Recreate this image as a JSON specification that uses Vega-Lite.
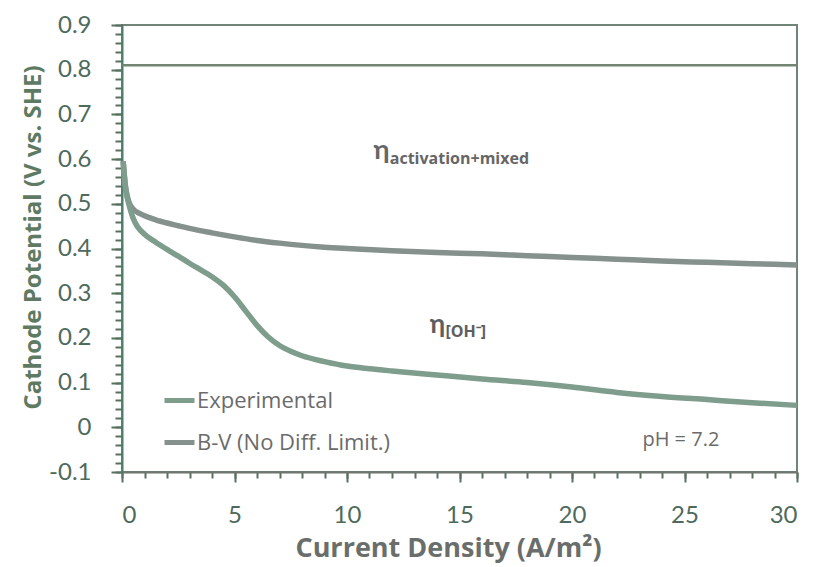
{
  "$schema": "https://vega.github.io/schema/vega-lite/v6.json",
  "width": 675,
  "height": 447,
  "autosize": {"type": "none"},
  "padding": {"left": 122, "top": 25, "right": 19, "bottom": 95},
  "background": "#ffffff",
  "config": {
    "font": "Lato",
    "view": {"stroke": "#6f8577", "strokeWidth": 2},
    "axis": {"grid": false}
  },
  "layer": [
    {
      "data": {"values": [{"E": 0.81}]},
      "mark": {"type": "rule", "color": "#718570", "strokeWidth": 2.5},
      "encoding": {
        "y": {
          "field": "E", "type": "quantitative",
          "scale": {"domain": [-0.1, 0.9], "nice": false, "zero": false},
          "axis": {
            "orient": "left", "title": null, "labels": false, "domain": false,
            "values": [-0.1,-0.08,-0.06,-0.04,-0.02,0,0.02,0.04,0.06,0.08,0.1,0.12,0.14,0.16,0.18,0.2,0.22,0.24,0.26,0.28,0.3,0.32,0.34,0.36,0.38,0.4,0.42,0.44,0.46,0.48,0.5,0.52,0.54,0.56,0.58,0.6,0.62,0.64,0.66,0.68,0.7,0.72,0.74,0.76,0.78,0.8,0.82,0.84,0.86,0.88,0.9],
            "tickSize": 7, "tickWidth": 2, "tickColor": "#58705f"
          }
        },
        "x": {
          "datum": 0, "type": "quantitative",
          "scale": {"domain": [0, 30], "nice": false},
          "axis": {
            "orient": "bottom", "title": null, "labels": false, "domain": false,
            "values": [0,1,2,3,4,5,6,7,8,9,10,11,12,13,14,15,16,17,18,19,20,21,22,23,24,25,26,27,28,29,30],
            "tickSize": 6, "tickWidth": 2, "tickColor": "#58705f"
          }
        },
        "x2": {"datum": 30}
      }
    },
    {
      "data": {"values": [
        {"series": "B-V (No Diff. Limit.)", "j": 0.05, "E": 0.595},
        {"series": "B-V (No Diff. Limit.)", "j": 0.1, "E": 0.565},
        {"series": "B-V (No Diff. Limit.)", "j": 0.15, "E": 0.54},
        {"series": "B-V (No Diff. Limit.)", "j": 0.2, "E": 0.525},
        {"series": "B-V (No Diff. Limit.)", "j": 0.3, "E": 0.505},
        {"series": "B-V (No Diff. Limit.)", "j": 0.5, "E": 0.488},
        {"series": "B-V (No Diff. Limit.)", "j": 0.8, "E": 0.478},
        {"series": "B-V (No Diff. Limit.)", "j": 1.0, "E": 0.473},
        {"series": "B-V (No Diff. Limit.)", "j": 1.5, "E": 0.464},
        {"series": "B-V (No Diff. Limit.)", "j": 2, "E": 0.457},
        {"series": "B-V (No Diff. Limit.)", "j": 2.5, "E": 0.451},
        {"series": "B-V (No Diff. Limit.)", "j": 3, "E": 0.445},
        {"series": "B-V (No Diff. Limit.)", "j": 4, "E": 0.435},
        {"series": "B-V (No Diff. Limit.)", "j": 5, "E": 0.426},
        {"series": "B-V (No Diff. Limit.)", "j": 6, "E": 0.418},
        {"series": "B-V (No Diff. Limit.)", "j": 7, "E": 0.412},
        {"series": "B-V (No Diff. Limit.)", "j": 8, "E": 0.407},
        {"series": "B-V (No Diff. Limit.)", "j": 9, "E": 0.403},
        {"series": "B-V (No Diff. Limit.)", "j": 10, "E": 0.4},
        {"series": "B-V (No Diff. Limit.)", "j": 12, "E": 0.395},
        {"series": "B-V (No Diff. Limit.)", "j": 14, "E": 0.391},
        {"series": "B-V (No Diff. Limit.)", "j": 16, "E": 0.388},
        {"series": "B-V (No Diff. Limit.)", "j": 18, "E": 0.384},
        {"series": "B-V (No Diff. Limit.)", "j": 20, "E": 0.38},
        {"series": "B-V (No Diff. Limit.)", "j": 22, "E": 0.376},
        {"series": "B-V (No Diff. Limit.)", "j": 24, "E": 0.372},
        {"series": "B-V (No Diff. Limit.)", "j": 26, "E": 0.369},
        {"series": "B-V (No Diff. Limit.)", "j": 28, "E": 0.366},
        {"series": "B-V (No Diff. Limit.)", "j": 30, "E": 0.363},
        {"series": "Experimental", "j": 0.05, "E": 0.595},
        {"series": "Experimental", "j": 0.1, "E": 0.565},
        {"series": "Experimental", "j": 0.15, "E": 0.54},
        {"series": "Experimental", "j": 0.2, "E": 0.522},
        {"series": "Experimental", "j": 0.3, "E": 0.5},
        {"series": "Experimental", "j": 0.4, "E": 0.482},
        {"series": "Experimental", "j": 0.5, "E": 0.467},
        {"series": "Experimental", "j": 0.7, "E": 0.448},
        {"series": "Experimental", "j": 1.0, "E": 0.432},
        {"series": "Experimental", "j": 1.5, "E": 0.414},
        {"series": "Experimental", "j": 2, "E": 0.398},
        {"series": "Experimental", "j": 2.5, "E": 0.383},
        {"series": "Experimental", "j": 3, "E": 0.367},
        {"series": "Experimental", "j": 3.5, "E": 0.352},
        {"series": "Experimental", "j": 4, "E": 0.337},
        {"series": "Experimental", "j": 4.5, "E": 0.318},
        {"series": "Experimental", "j": 5, "E": 0.292},
        {"series": "Experimental", "j": 5.5, "E": 0.26},
        {"series": "Experimental", "j": 6, "E": 0.228},
        {"series": "Experimental", "j": 6.5, "E": 0.202},
        {"series": "Experimental", "j": 7, "E": 0.183},
        {"series": "Experimental", "j": 7.5, "E": 0.17},
        {"series": "Experimental", "j": 8, "E": 0.16},
        {"series": "Experimental", "j": 9, "E": 0.147},
        {"series": "Experimental", "j": 10, "E": 0.137},
        {"series": "Experimental", "j": 11, "E": 0.131},
        {"series": "Experimental", "j": 12, "E": 0.126},
        {"series": "Experimental", "j": 14, "E": 0.117},
        {"series": "Experimental", "j": 16, "E": 0.108},
        {"series": "Experimental", "j": 18, "E": 0.1},
        {"series": "Experimental", "j": 20, "E": 0.09},
        {"series": "Experimental", "j": 22, "E": 0.078},
        {"series": "Experimental", "j": 24, "E": 0.069},
        {"series": "Experimental", "j": 26, "E": 0.062},
        {"series": "Experimental", "j": 28, "E": 0.055},
        {"series": "Experimental", "j": 30, "E": 0.049}
      ]},
      "mark": {"type": "line", "strokeWidth": 5.5, "interpolate": "monotone"},
      "encoding": {
        "x": {
          "field": "j", "type": "quantitative",
          "scale": {"domain": [0, 30], "nice": false},
          "axis": {
            "orient": "bottom",
            "title": "Current Density (A/m²)",
            "values": [0, 5, 10, 15, 20, 25, 30],
            "labelFontSize": 24, "labelColor": "#4e6a5c", "labelPadding": 21,
            "tickSize": 10, "tickWidth": 2, "tickColor": "#58705f",
            "domainColor": "#6f7670", "domainWidth": 2,
            "titleFont": "Open Sans", "titleFontSize": 27, "titleFontWeight": "bold", "titleColor": "#6a6e6b", "titlePadding": 8, "titleX": 326
          }
        },
        "y": {
          "field": "E", "type": "quantitative",
          "scale": {"domain": [-0.1, 0.9], "nice": false, "zero": false},
          "axis": {
            "orient": "left",
            "title": "Cathode Potential (V vs. SHE)",
            "values": [-0.1, 0, 0.1, 0.2, 0.3, 0.4, 0.5, 0.6, 0.7, 0.8, 0.9],
            "labelExpr": "datum.value === 0 ? '0' : (datum.value < 0 ? '-' + format(-datum.value, '.1f') : format(datum.value, '.1f'))",
            "labelFontSize": 24, "labelColor": "#4e6a5c", "labelPadding": 20,
            "tickSize": 11, "tickWidth": 2, "tickColor": "#58705f",
            "domainColor": "#4d7d6d", "domainWidth": 2,
            "titleFont": "Open Sans", "titleFontSize": 24, "titleFontWeight": "bold", "titleColor": "#5e7a62", "titlePadding": 3, "titleY": 212
          }
        },
        "color": {
          "field": "series", "type": "nominal",
          "scale": {"domain": ["Experimental", "B-V (No Diff. Limit.)"], "range": ["#7e9d8d", "#84918c"]},
          "legend": {
            "orient": "none", "legendX": 40, "legendY": 358, "title": null,
            "symbolType": "stroke", "symbolStrokeWidth": 5, "symbolSize": 900,
            "labelFont": "Open Sans", "labelFontSize": 22, "labelColor": "#6b6b6b", "labelOffset": 0,
            "labelLimit": 0, "rowPadding": 13, "padding": 0
          }
        }
      }
    },
    {
      "data": {"values": [{}]},
      "mark": {"type": "text", "text": "η", "fontSize": 27, "fontWeight": "bold", "color": "#666666", "align": "center", "baseline": "alphabetic"},
      "encoding": {"x": {"datum": 11.53, "type": "quantitative", "axis": null}, "y": {"datum": 0.601, "type": "quantitative", "axis": null}}
    },
    {
      "data": {"values": [{}]},
      "mark": {"type": "text", "text": "activation+mixed", "font": "Open Sans", "fontSize": 16, "fontWeight": "bold", "color": "#666666", "align": "left", "baseline": "alphabetic"},
      "encoding": {"x": {"datum": 11.9, "type": "quantitative", "axis": null}, "y": {"datum": 0.588, "type": "quantitative", "axis": null}}
    },
    {
      "data": {"values": [{}]},
      "mark": {"type": "text", "text": "η", "fontSize": 26, "fontWeight": "bold", "color": "#5e5e5e", "align": "center", "baseline": "alphabetic"},
      "encoding": {"x": {"datum": 14.02, "type": "quantitative", "axis": null}, "y": {"datum": 0.212, "type": "quantitative", "axis": null}}
    },
    {
      "data": {"values": [{}]},
      "mark": {"type": "text", "text": "[OH⁻]", "font": "Open Sans", "fontSize": 16, "fontWeight": "bold", "color": "#5e5e5e", "align": "left", "baseline": "alphabetic"},
      "encoding": {"x": {"datum": 14.38, "type": "quantitative", "axis": null}, "y": {"datum": 0.203, "type": "quantitative", "axis": null}}
    },
    {
      "data": {"values": [{}]},
      "mark": {"type": "text", "text": "pH = 7.2", "font": "Open Sans", "fontSize": 20, "color": "#6b6b6b", "align": "center", "baseline": "alphabetic"},
      "encoding": {"x": {"datum": 24.84, "type": "quantitative", "axis": null}, "y": {"datum": -0.0417, "type": "quantitative", "axis": null}}
    }
  ],
  "resolve": {"axis": {"x": "independent", "y": "independent"}}
}
